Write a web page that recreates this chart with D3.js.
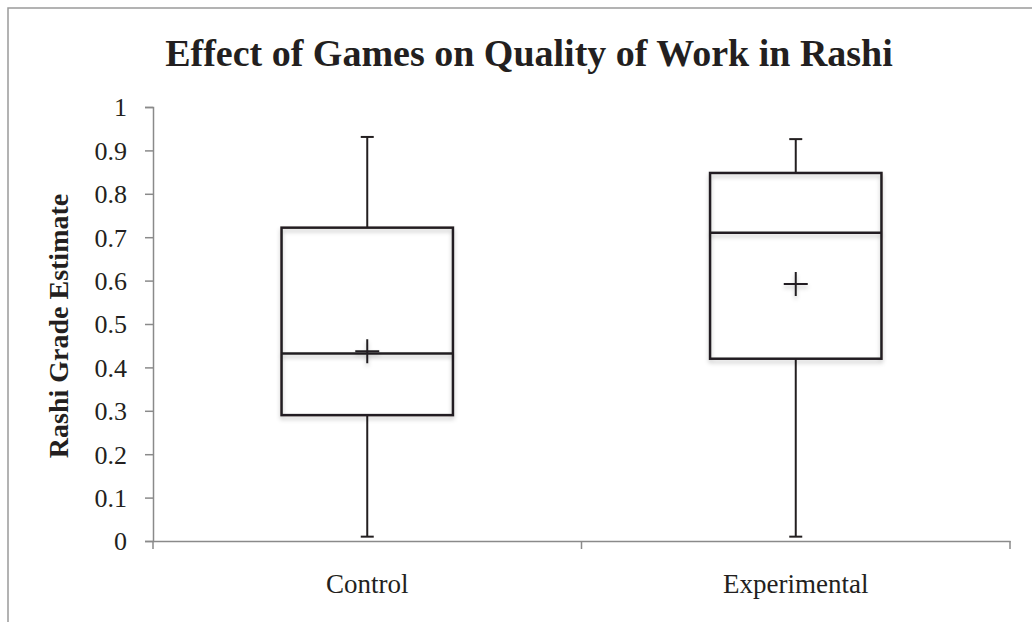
<!DOCTYPE html>
<html>
<head>
<meta charset="utf-8">
<script src="https://cdn.jsdelivr.net/npm/d3@7"></script>
<style>
  html, body { margin: 0; padding: 0; background: #fff; overflow: hidden; }
  text { font-family: "Liberation Serif", "DejaVu Serif", serif; fill: #231f20; }
</style>
</head>
<body>
<svg id="chart" width="1032" height="622"></svg>
<script>
"use strict";

// box plot values
var categories = ['Control', 'Experimental'];
var whiskerLow = [0.01, 0.01];
var quartile1 = [0.29, 0.42];
var medians = [0.432, 0.71];
var quartile3 = [0.722, 0.848];
var whiskerHigh = [0.931, 0.926];
var means = [0.437, 0.592];
var yTicks = [0, 0.1, 0.2, 0.3, 0.4, 0.5, 0.6, 0.7, 0.8, 0.9, 1];
var yTickLabels = ['0', '0.1', '0.2', '0.3', '0.4', '0.5', '0.6', '0.7', '0.8', '0.9', '1'];

var titleText = 'Effect of Games on Quality of Work in Rashi';
var yTitleText = 'Rashi Grade Estimate';

var svg = d3.select('#chart');
var ink = '#231f20';
var axisGrey = '#8a8a8a';

var plot = { left: 153, right: 1010, top: 107, bottom: 541 };

var x = d3.scaleBand()
  .domain(categories)
  .range([plot.left, plot.right])
  .padding(0);

var y = d3.scaleLinear()
  .domain([0, 1])
  .range([plot.bottom, plot.top]);

var boxWidth = x.bandwidth() * 0.4;
var capWidth = 13;
var plusHalf = 12;

// soft excel-ish shadow under box strokes.
// userSpaceOnUse so flat lines (zero-height bbox) still render,
// which means every shadowed mark is drawn in plain svg coords.
var defs = svg.append('defs');
var shadow = defs.append('filter')
  .attr('id', 'soft-shadow')
  .attr('filterUnits', 'userSpaceOnUse')
  .attr('x', 0).attr('y', 0)
  .attr('width', 1032).attr('height', 622);
shadow.append('feDropShadow')
  .attr('dx', 0).attr('dy', 3)
  .attr('stdDeviation', 2)
  .attr('flood-color', '#000')
  .attr('flood-opacity', 0.22);

// chart frame (cropped on the right and bottom)
svg.append('rect')
  .attr('x', 8).attr('y', 8)
  .attr('width', 1100).attr('height', 700)
  .attr('fill', 'none')
  .attr('stroke', '#9a9a9a')
  .attr('stroke-width', 1.5);

svg.append('text')
  .attr('x', 529).attr('y', 66)
  .attr('text-anchor', 'middle')
  .style('font-size', '38px')
  .style('font-weight', 'bold')
  .text(titleText);

svg.append('text')
  .attr('transform', 'translate(68,' + ((plot.top + plot.bottom) / 2 + 2) + ') rotate(-90)')
  .attr('text-anchor', 'middle')
  .style('font-size', '28px')
  .style('font-weight', 'bold')
  .text(yTitleText);

// axes
var yAxis = d3.axisLeft(y)
  .tickValues(yTicks)
  .tickFormat(function(d, i) { return yTickLabels[i]; })
  .tickSize(8)
  .tickPadding(18);

var yG = svg.append('g')
  .attr('transform', 'translate(' + plot.left + ',0)')
  .call(yAxis);

var xAxis = d3.axisBottom(x)
  .tickSize(0)
  .tickPadding(33)
  .tickSizeOuter(0);

var xG = svg.append('g')
  .attr('transform', 'translate(0,' + plot.bottom + ')')
  .call(xAxis);

// excel puts the category ticks between the groups
xG.selectAll('.between-tick')
  .data(d3.range(categories.length + 1))
  .enter().append('line')
  .attr('class', 'between-tick')
  .attr('x1', function(i) { return plot.left + i * x.step(); })
  .attr('x2', function(i) { return plot.left + i * x.step(); })
  .attr('y1', 0).attr('y2', 8);

[yG, xG].forEach(function(g) {
  g.select('.domain').attr('stroke', axisGrey).attr('stroke-width', 1.5);
  g.selectAll('line').attr('stroke', axisGrey).attr('stroke-width', 1.5);
  g.selectAll('text')
    .style('font-family', '"Liberation Serif", "DejaVu Serif", serif')
    .style('fill', ink);
});
yG.selectAll('text').style('font-size', '26px').attr('dy', '0.34em');
xG.selectAll('.tick text').style('font-size', '27px').attr('dy', '0.71em');

// boxes
var idx = d3.range(categories.length);
var cx = function(i) { return x(categories[i]) + x.bandwidth() / 2; };

var boxes = svg.append('g').attr('class', 'boxes');

boxes.selectAll('.whisker-high')
  .data(idx).enter().append('line')
  .attr('class', 'whisker-high')
  .attr('x1', cx).attr('x2', cx)
  .attr('y1', function(i) { return y(quartile3[i]); })
  .attr('y2', function(i) { return y(whiskerHigh[i]); });

boxes.selectAll('.whisker-low')
  .data(idx).enter().append('line')
  .attr('class', 'whisker-low')
  .attr('x1', cx).attr('x2', cx)
  .attr('y1', function(i) { return y(quartile1[i]); })
  .attr('y2', function(i) { return y(whiskerLow[i]); });

boxes.selectAll('.cap')
  .data(idx.map(function(i) { return [i, whiskerHigh[i]]; })
    .concat(idx.map(function(i) { return [i, whiskerLow[i]]; })))
  .enter().append('line')
  .attr('class', 'cap')
  .attr('x1', function(d) { return cx(d[0]) - capWidth / 2; })
  .attr('x2', function(d) { return cx(d[0]) + capWidth / 2; })
  .attr('y1', function(d) { return y(d[1]); })
  .attr('y2', function(d) { return y(d[1]); });

boxes.selectAll('line')
  .attr('stroke', ink)
  .attr('stroke-width', 2);

boxes.selectAll('.box')
  .data(idx).enter().append('rect')
  .attr('class', 'box')
  .attr('x', function(i) { return cx(i) - boxWidth / 2; })
  .attr('width', boxWidth)
  .attr('y', function(i) { return y(quartile3[i]); })
  .attr('height', function(i) { return y(quartile1[i]) - y(quartile3[i]); })
  .attr('fill', 'none')
  .attr('stroke', ink)
  .attr('stroke-width', 2.5)
  .attr('filter', 'url(#soft-shadow)');

boxes.selectAll('.median')
  .data(idx).enter().append('line')
  .attr('class', 'median')
  .attr('x1', function(i) { return cx(i) - boxWidth / 2; })
  .attr('x2', function(i) { return cx(i) + boxWidth / 2; })
  .attr('y1', function(i) { return y(medians[i]); })
  .attr('y2', function(i) { return y(medians[i]); })
  .attr('stroke', ink)
  .attr('stroke-width', 2.5)
  .attr('filter', 'url(#soft-shadow)');

// mean markers drawn as a plus, path in absolute coords (see filter note)
var plusPath = function(i) {
  var px = cx(i);
  var py = y(means[i]);
  var p = d3.path();
  p.moveTo(px - plusHalf, py);
  p.lineTo(px + plusHalf, py);
  p.moveTo(px, py - plusHalf);
  p.lineTo(px, py + plusHalf);
  return p.toString();
};

boxes.selectAll('.mean')
  .data(idx).enter().append('path')
  .attr('class', 'mean')
  .attr('d', plusPath)
  .attr('fill', 'none')
  .attr('stroke', ink)
  .attr('stroke-width', 2)
  .attr('filter', 'url(#soft-shadow)');
</script>
</body>
</html>
